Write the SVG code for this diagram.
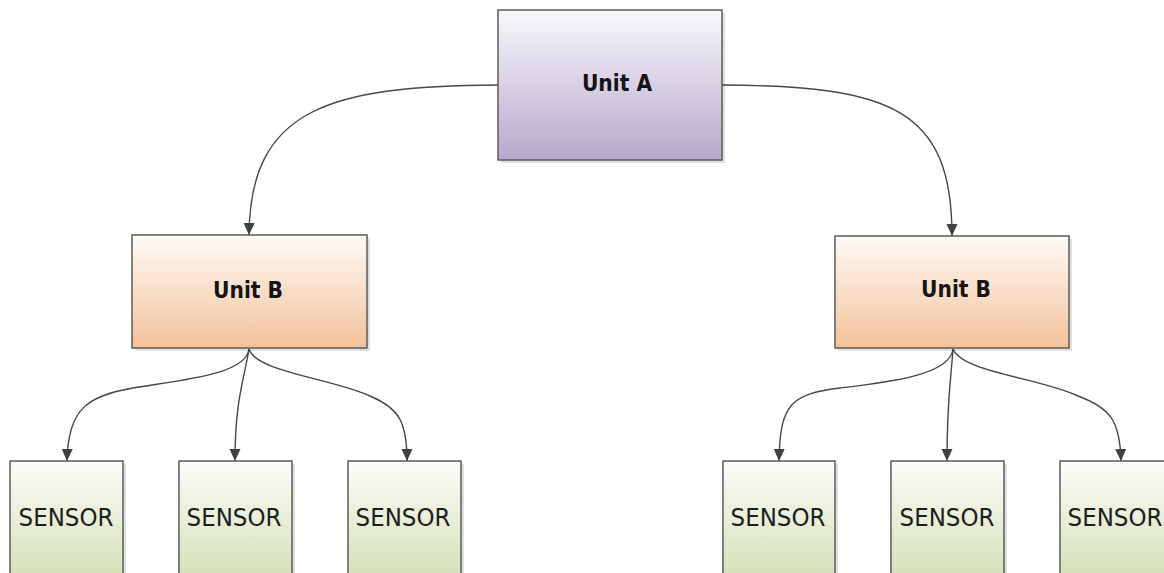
<svg xmlns="http://www.w3.org/2000/svg" width="1164" height="573" viewBox="0 0 1164 573">
  <style>
    .box { stroke: #5b5b5b; stroke-width: 1.5; }
    .shadow { fill: #000; opacity: 0.12; }
    .wire { fill: none; stroke: #474747; stroke-width: 1.4; }
    .unit { font-family: "DejaVu Sans Condensed", "DejaVu Sans", sans-serif; font-stretch: condensed; font-weight: bold; font-size: 22.5px; fill: #141414; text-anchor: middle; }
    .sensor { font-family: "DejaVu Sans Condensed", "DejaVu Sans", sans-serif; font-stretch: condensed; font-size: 25.5px; fill: #1e1e1e; text-anchor: middle; }
  </style>
  <defs>
    <linearGradient id="gradA" x1="0" y1="0" x2="0" y2="1">
      <stop offset="0" stop-color="#f9f8fc"/>
      <stop offset="1" stop-color="#b6a9cb"/>
    </linearGradient>
    <linearGradient id="gradB" x1="0" y1="0" x2="0" y2="1">
      <stop offset="0" stop-color="#fffaf6"/>
      <stop offset="1" stop-color="#f3c29b"/>
    </linearGradient>
    <linearGradient id="gradS" x1="0" y1="0" x2="0" y2="1">
      <stop offset="0" stop-color="#fcfdf9"/>
      <stop offset="1" stop-color="#cad8a6"/>
    </linearGradient>
    <marker id="arrow" viewBox="0 0 12 12" refX="12" refY="6" markerWidth="12" markerHeight="12" markerUnits="userSpaceOnUse" orient="auto">
      <path d="M0,0.5 L12,6 L0,11.5 Z" fill="#404040"/>
    </marker>
  </defs>

  <rect width="1164" height="573" fill="#ffffff"/>

  <!-- connectors -->
  <g id="connectors">
    <path class="wire" marker-end="url(#arrow)" d="M498,85 C330,86 250,108 249,235"/>
    <path class="wire" marker-end="url(#arrow)" d="M722,85 C890,86 952,108 952,236"/>

    <path class="wire" marker-end="url(#arrow)" d="M249,349 C246,375 180,380 133,388 S68,410 67,461"/>
    <path class="wire" marker-end="url(#arrow)" d="M249,349 C244,380 235,400 235,461"/>
    <path class="wire" marker-end="url(#arrow)" d="M249,349 C256,372 330,378 370,396 C398,408 407,420 407,461"/>

    <path class="wire" marker-end="url(#arrow)" d="M953,349 C950,375 890,382 840,388 S780,405 779,461"/>
    <path class="wire" marker-end="url(#arrow)" d="M953,349 C950,390 947,400 947,461"/>
    <path class="wire" marker-end="url(#arrow)" d="M953,349 C962,372 1040,378 1078,396 C1110,408 1120,420 1121,461"/>
  </g>

  <!-- top unit -->
  <g id="unitA">
    <rect class="shadow" x="501" y="13" width="224" height="150"/>
    <rect class="box" x="498" y="10" width="224" height="150" fill="url(#gradA)"/>
    <text class="unit" x="617" y="91">Unit A</text>
  </g>

  <!-- middle units -->
  <g id="unitB1">
    <rect class="shadow" x="135" y="238" width="235" height="113"/>
    <rect class="box" x="132" y="235" width="235" height="113" fill="url(#gradB)"/>
    <text class="unit" x="248" y="298">Unit B</text>
  </g>
  <g id="unitB2">
    <rect class="shadow" x="838" y="239" width="234" height="112"/>
    <rect class="box" x="835" y="236" width="234" height="112" fill="url(#gradB)"/>
    <text class="unit" x="956" y="297">Unit B</text>
  </g>

  <!-- sensors -->
  <g id="sensor1">
    <rect class="shadow" x="13" y="464" width="113" height="150"/>
    <rect class="box" x="10" y="461" width="113" height="150" fill="url(#gradS)"/>
    <text class="sensor" x="66" y="526">SENSOR</text>
  </g>
  <g id="sensor2">
    <rect class="shadow" x="182" y="464" width="113" height="150"/>
    <rect class="box" x="179" y="461" width="113" height="150" fill="url(#gradS)"/>
    <text class="sensor" x="234" y="526">SENSOR</text>
  </g>
  <g id="sensor3">
    <rect class="shadow" x="351" y="464" width="113" height="150"/>
    <rect class="box" x="348" y="461" width="113" height="150" fill="url(#gradS)"/>
    <text class="sensor" x="403" y="526">SENSOR</text>
  </g>
  <g id="sensor4">
    <rect class="shadow" x="726" y="464" width="112" height="150"/>
    <rect class="box" x="723" y="461" width="112" height="150" fill="url(#gradS)"/>
    <text class="sensor" x="778" y="526">SENSOR</text>
  </g>
  <g id="sensor5">
    <rect class="shadow" x="894" y="464" width="113" height="150"/>
    <rect class="box" x="891" y="461" width="113" height="150" fill="url(#gradS)"/>
    <text class="sensor" x="947" y="526">SENSOR</text>
  </g>
  <g id="sensor6">
    <rect class="shadow" x="1063" y="464" width="113" height="150"/>
    <rect class="box" x="1060" y="461" width="113" height="150" fill="url(#gradS)"/>
    <text class="sensor" x="1115" y="526">SENSOR</text>
  </g>
</svg>
